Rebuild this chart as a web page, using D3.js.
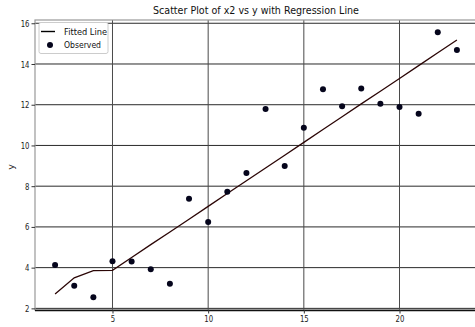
<!DOCTYPE html>
<html>
<head>
<meta charset="utf-8">
<script src="https://cdn.jsdelivr.net/npm/d3@7"></script>
<style>
  body { margin: 0; background: #fff; }
  svg { display: block; font-family: "DejaVu Sans", sans-serif; }
</style>
</head>
<body>
<div id="chart"></div>
<script>
const xValues = [2, 3, 4, 5, 6, 7, 8, 9, 10, 11, 12, 13, 14, 15, 16, 17, 18, 19, 20, 21, 22, 23];
const yObserved = [4.13, 3.11, 2.55, 4.31, 4.3, 3.92, 3.21, 7.38, 6.24, 7.73, 8.65, 11.79, 8.99, 10.87, 12.76, 11.92, 12.8, 12.05, 11.89, 11.56, 15.56, 14.69];
// fitted line, one value per x
const yFitted = [2.7, 3.5, 3.85, 3.87, 4.5, 5.13, 5.75, 6.38, 7.01, 7.64, 8.27, 8.89, 9.52, 10.15, 10.78, 11.41, 12.04, 12.66, 13.29, 13.92, 14.55, 15.18];
const xTicks = [5, 10, 15, 20];
const yTicks = [2, 4, 6, 8, 10, 12, 14, 16];

const width = 475, height = 327;
const mLeft = 35, mRight = 477, mTop = 20, mBottom = 310;

const svg = d3.select("#chart").append("svg")
  .attr("width", width)
  .attr("height", height);

const x = d3.scaleLinear().domain([0.95, 24.05]).range([mLeft, mRight]);
const y = d3.scaleLinear().domain([1.92, 16.16]).range([mBottom, mTop]);

// squeeze text a bit, the picture's font is narrow
function narrow(sel, perChar) {
  sel.each(function () {
    const t = d3.select(this);
    t.attr("textLength", t.text().length * perChar).attr("lengthAdjust", "spacingAndGlyphs");
  });
}

// grid
svg.append("g")
  .selectAll("line")
  .data(yTicks)
  .join("line")
  .attr("x1", mLeft).attr("x2", mRight)
  .attr("y1", d => y(d)).attr("y2", d => y(d))
  .attr("stroke", "#2a2a2a").attr("stroke-width", 1);

svg.append("g")
  .selectAll("line")
  .data(xTicks)
  .join("line")
  .attr("x1", d => x(d)).attr("x2", d => x(d))
  .attr("y1", mTop).attr("y2", mBottom)
  .attr("stroke", "#4a4a4a").attr("stroke-width", 1);

// spines
svg.append("rect")
  .attr("x", mLeft).attr("y", mTop)
  .attr("width", mRight - mLeft).attr("height", mBottom - mTop)
  .attr("fill", "none").attr("stroke", "#999").attr("stroke-width", 1.2);
svg.append("line")
  .attr("x1", mLeft).attr("x2", mRight)
  .attr("y1", mBottom + 0.5).attr("y2", mBottom + 0.5)
  .attr("stroke", "#111").attr("stroke-width", 1.3);

// axes
const xAxis = svg.append("g")
  .attr("transform", "translate(0," + mBottom + ")")
  .call(d3.axisBottom(x).tickValues(xTicks).tickSize(3.5).tickPadding(2));
xAxis.select(".domain").remove();
xAxis.selectAll("line").attr("stroke", "#333");
xAxis.selectAll("text").attr("font-size", 9.5).attr("fill", "#222")
  .attr("font-family", "DejaVu Sans").call(narrow, 4.4);

const yAxis = svg.append("g")
  .attr("transform", "translate(" + mLeft + ",0)")
  .call(d3.axisLeft(y).tickValues(yTicks).tickSize(3.5).tickPadding(2));
yAxis.select(".domain").remove();
yAxis.selectAll("line").attr("stroke", "#333");
yAxis.selectAll("text").attr("font-size", 9.5).attr("fill", "#222")
  .attr("font-family", "DejaVu Sans").call(narrow, 4.4);

// y label
svg.append("text")
  .attr("transform", "translate(14," + ((mTop + mBottom) / 2 + 2) + ")rotate(-90)")
  .attr("text-anchor", "middle")
  .attr("font-size", 9.5)
  .attr("fill", "#222")
  .text("y");

// title
svg.append("text")
  .attr("x", (mLeft + mRight) / 2)
  .attr("y", 14)
  .attr("text-anchor", "middle")
  .attr("font-size", 10.5)
  .attr("fill", "#111")
  .attr("textLength", 206)
  .attr("lengthAdjust", "spacingAndGlyphs")
  .text("Scatter Plot of x2 vs y with Regression Line");

// fitted line
const line = d3.line()
  .x((d, i) => x(xValues[i]))
  .y(d => y(d));
svg.append("path")
  .datum(yFitted)
  .attr("d", line)
  .attr("fill", "none")
  .attr("stroke", "#2b0606")
  .attr("stroke-width", 1.3);

// observed points
svg.append("g")
  .selectAll("circle")
  .data(yObserved)
  .join("circle")
  .attr("cx", (d, i) => x(xValues[i]))
  .attr("cy", d => y(d))
  .attr("r", 3)
  .attr("fill", "#05051c");

// legend
const lg = svg.append("g");
lg.append("rect")
  .attr("x", 39).attr("y", 22.5)
  .attr("width", 69).attr("height", 31)
  .attr("rx", 2)
  .attr("fill", "#fff").attr("stroke", "#ccc");
lg.append("line")
  .attr("x1", 41).attr("x2", 55)
  .attr("y1", 31.5).attr("y2", 31.5)
  .attr("stroke", "#000").attr("stroke-width", 1.4);
lg.append("circle")
  .attr("cx", 50).attr("cy", 45).attr("r", 3)
  .attr("fill", "#05051c");
lg.append("text")
  .attr("x", 64).attr("y", 35)
  .attr("font-size", 9.5).attr("fill", "#111")
  .attr("textLength", 43).attr("lengthAdjust", "spacingAndGlyphs")
  .text("Fitted Line");
lg.append("text")
  .attr("x", 64).attr("y", 48)
  .attr("font-size", 9.5).attr("fill", "#111")
  .attr("textLength", 37).attr("lengthAdjust", "spacingAndGlyphs")
  .text("Observed");
</script>
</body>
</html>
